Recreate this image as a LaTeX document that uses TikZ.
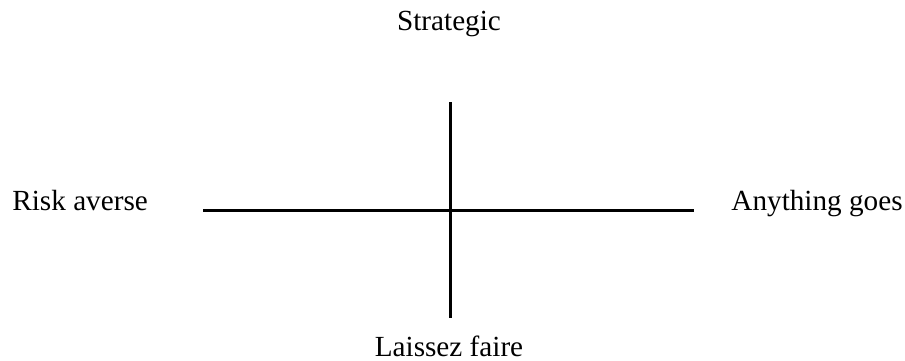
\documentclass[tikz,border=0pt]{standalone}
\usepackage{fontspec}
\setmainfont{Liberation Serif}
\begin{document}
\begin{tikzpicture}[x=0.5pt,y=-0.5pt,
  lbl/.style={inner sep=0pt,font=\fontsize{14.6}{18}\selectfont},
  axis/.style={line width=1.5pt}]
\useasboundingbox (0,0) rectangle (905,360);
\node[lbl,anchor=base] (top) at (449,30) {Strategic};
\node[lbl,anchor=base] (bot) at (449,356) {Laissez faire};
\node[lbl,anchor=base west] (left) at (12,210) {Risk averse};
\node[lbl,anchor=base east] (right) at (903,210) {Anything goes};
\coordinate (vt) at (450,102);
\coordinate (vb) at (450,318);
\coordinate (hl) at (203,210.5);
\coordinate (hr) at (694,210.5);
\draw[axis] (vt) -- (vb);
\draw[axis] (hl) -- (hr);
\end{tikzpicture}
\end{document}
